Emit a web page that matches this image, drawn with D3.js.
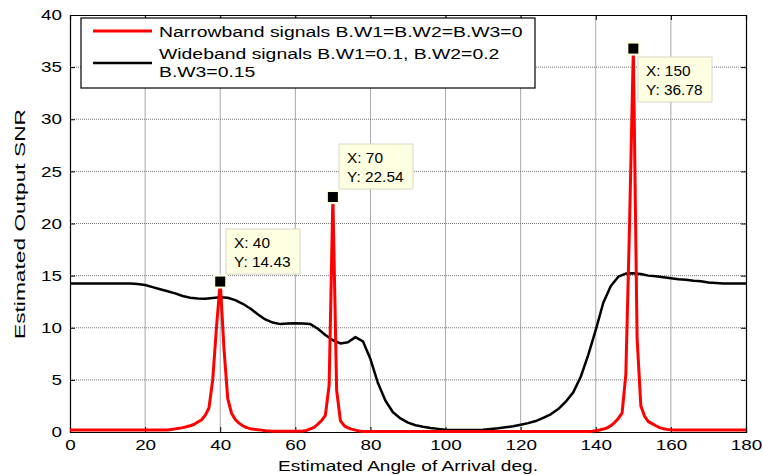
<!DOCTYPE html>
<html>
<head>
<meta charset="utf-8">
<script src="https://cdn.jsdelivr.net/npm/d3@7"></script>
<style>
body { margin: 0; background: #fff; }
text { font-family: Arial, "Liberation Sans", sans-serif; }
</style>
</head>
<body>
<svg id="chart" width="763" height="475"></svg>
<script>
// narrowband: sampled every 1 deg, wideband: every 2 deg
const narrowAngles = d3.range(0, 181, 1)
const narrowSnr = [
  0.2, 0.2, 0.2, 0.2, 0.2, 0.2, 0.2, 0.2, 0.2, 0.2,
  0.2, 0.2, 0.2, 0.2, 0.2, 0.2, 0.2, 0.2, 0.2, 0.2,
  0.2, 0.2, 0.2, 0.2, 0.2, 0.2, 0.2, 0.25, 0.3, 0.35,
  0.42, 0.5, 0.6, 0.72, 0.95, 1.15, 1.6, 2.3, 5.0, 10.0,
  14.43, 8.0, 3.2, 1.8, 1.2, 0.85, 0.6, 0.42, 0.32, 0.26,
  0.22, 0.18, 0.12, 0.1, 0.08, 0.08, 0.08, 0.08, 0.08, 0.08,
  0.08, 0.08, 0.1, 0.15, 0.3, 0.45, 0.75, 1.1, 1.6, 4.5,
  22.54, 4.0, 1.1, 0.6, 0.4, 0.28, 0.18, 0.1, 0.05, 0.05,
  0.05, 0.05, 0.05, 0.05, 0.05, 0.05, 0.05, 0.05, 0.05, 0.05,
  0.05, 0.05, 0.05, 0.05, 0.05, 0.05, 0.05, 0.05, 0.05, 0.05,
  0.05, 0.05, 0.05, 0.05, 0.05, 0.05, 0.05, 0.05, 0.05, 0.05,
  0.05, 0.05, 0.05, 0.05, 0.05, 0.05, 0.05, 0.05, 0.05, 0.05,
  0.05, 0.05, 0.05, 0.05, 0.05, 0.05, 0.05, 0.05, 0.05, 0.05,
  0.05, 0.05, 0.05, 0.05, 0.05, 0.05, 0.05, 0.05, 0.05, 0.08,
  0.12, 0.2, 0.28, 0.4, 0.6, 0.9, 1.3, 1.8, 5.5, 20.0,
  36.78, 9.0, 2.5, 1.5, 1.0, 0.8, 0.6, 0.42, 0.32, 0.25,
  0.22, 0.2, 0.2, 0.2, 0.2, 0.2, 0.2, 0.2, 0.2, 0.2,
  0.2, 0.2, 0.2, 0.2, 0.2, 0.2, 0.2, 0.2, 0.2, 0.2, 0.2
]
const wideAngles = d3.range(0, 181, 2)
const wideSnr = [
  14.25, 14.25, 14.25, 14.25, 14.25, 14.25, 14.25, 14.25, 14.25, 14.2,
  14.1, 13.9, 13.7, 13.5, 13.3, 13.05, 12.88, 12.8, 12.78, 12.85,
  12.92, 12.88, 12.65, 12.3, 11.85, 11.3, 10.8, 10.5, 10.35, 10.4,
  10.42, 10.4, 10.35, 9.9, 9.3, 8.8, 8.5, 8.6, 9.1, 8.7,
  7.0, 4.7, 3.0, 1.9, 1.3, 0.9, 0.65, 0.5, 0.38, 0.3,
  0.22, 0.2, 0.2, 0.2, 0.2, 0.22, 0.28, 0.35, 0.45, 0.55,
  0.7, 0.85, 1.05, 1.35, 1.7, 2.2, 2.9, 3.8, 5.3, 7.4,
  9.8, 12.4, 14.0, 14.9, 15.2, 15.22, 15.15, 15.0, 14.95, 14.85,
  14.75, 14.65, 14.6, 14.5, 14.45, 14.35, 14.3, 14.25, 14.25, 14.25, 14.25
]
const xTicks = [0, 20, 40, 60, 80, 100, 120, 140, 160, 180]
const yTicks = [0, 5, 10, 15, 20, 25, 30, 35, 40]
const seriesNames = ["Narrowband signals B.W1=B.W2=B.W3=0", "Wideband signals B.W1=0.1, B.W2=0.2", "B.W3=0.15"]
const tipAngles = [40, 70, 150]
const tipValues = [14.43, 22.54, 36.78]

const svg = d3.select("#chart")
const plotLeft = 70, plotRight = 746, plotTop = 15, plotBottom = 432

const x = d3.scaleLinear().domain([0, 180]).range([plotLeft, plotRight])
const y = d3.scaleLinear().domain([0, 40]).range([plotBottom, plotTop])

// the figure text is drawn wider than plain Arial, stretch it
function widen(sel, k) {
    sel.each(function() {
        const w = this.getComputedTextLength()
        d3.select(this).attr("textLength", w * k).attr("lengthAdjust", "spacingAndGlyphs")
    })
}

// grid
svg.append("g").selectAll("line")
    .data(xTicks.slice(1, -1))
    .enter().append("line")
    .attr("x1", d => x(d)).attr("x2", d => x(d))
    .attr("y1", plotTop).attr("y2", plotBottom)
    .attr("stroke", "#a8a8a8").attr("stroke-width", 1)
svg.append("g").selectAll("line")
    .data(yTicks.slice(1, -1))
    .enter().append("line")
    .attr("x1", plotLeft).attr("x2", plotRight)
    .attr("y1", d => y(d)).attr("y2", d => y(d))
    .attr("stroke", "#777").attr("stroke-width", 1)
    .attr("stroke-dasharray", "1,1")

// axes, ticks inside on all four sides
const gx = svg.append("g").attr("transform", `translate(0,${plotBottom})`)
    .call(d3.axisBottom(x).tickValues(xTicks).tickSize(-5).tickPadding(8))
const gy = svg.append("g").attr("transform", `translate(${plotLeft},0)`)
    .call(d3.axisLeft(y).tickValues(yTicks).tickSize(-5).tickPadding(8))
svg.append("g").attr("transform", `translate(0,${plotTop})`)
    .call(d3.axisTop(x).tickValues(xTicks).tickSize(-5).tickFormat(""))
svg.append("g").attr("transform", `translate(${plotRight},0)`)
    .call(d3.axisRight(y).tickValues(yTicks).tickSize(-5).tickFormat(""))
svg.selectAll(".domain").attr("stroke", "#000").attr("stroke-width", 1.2)
svg.selectAll(".tick line").attr("stroke", "#000")
gx.selectAll("text").attr("font-size", 14.5).attr("fill", "#000")
    .attr("font-family", "Arial, 'Liberation Sans', sans-serif")
    .call(widen, 1.3)
gy.selectAll("text").attr("font-size", 14.5).attr("fill", "#000")
    .attr("font-family", "Arial, 'Liberation Sans', sans-serif")
    .call(widen, 1.3)

svg.append("text")
    .attr("x", 408).attr("y", 471)
    .attr("text-anchor", "middle").attr("font-size", 15.5)
    .text("Estimated Angle of Arrival deg.")
    .attr("textLength", 260).attr("lengthAdjust", "spacingAndGlyphs")
svg.append("text")
    .attr("transform", `translate(25,224) rotate(-90)`)
    .attr("text-anchor", "middle").attr("font-size", 15)
    .text("Estimated Output SNR")
    .attr("textLength", 230).attr("lengthAdjust", "spacingAndGlyphs")

// curves
const line = d3.line().x(d => x(d[0])).y(d => y(d[1]))
svg.append("path")
    .datum(wideAngles.map((a, i) => [a, wideSnr[i]]))
    .attr("d", line).attr("fill", "none")
    .attr("stroke", "#000").attr("stroke-width", 2.5).attr("stroke-linejoin", "round")
svg.append("path")
    .datum(narrowAngles.map((a, i) => [a, narrowSnr[i]]))
    .attr("d", line).attr("fill", "none")
    .attr("stroke", "#ff0000").attr("stroke-width", 3).attr("stroke-linejoin", "round")

// legend
const lg = svg.append("g")
lg.append("rect").attr("x", 81).attr("y", 18).attr("width", 454).attr("height", 70)
    .attr("fill", "#fff").attr("stroke", "#000").attr("stroke-width", 1.2)
lg.append("line").attr("x1", 93).attr("x2", 152).attr("y1", 31).attr("y2", 31)
    .attr("stroke", "#ff0000").attr("stroke-width", 3)
lg.append("line").attr("x1", 93).attr("x2", 152).attr("y1", 63).attr("y2", 63)
    .attr("stroke", "#000").attr("stroke-width", 2.5)
lg.selectAll("text.leg")
    .data(seriesNames)
    .enter().append("text")
    .attr("class", "leg")
    .attr("x", 159)
    .attr("y", (d, i) => [37, 59, 77][i])
    .attr("font-size", 15.5)
    .text(d => d)
    .call(widen, 1.25)

// data tips
const tipBoxes = [[226, 229], [339, 144], [638, 57]]
tipAngles.forEach((a, i) => {
    const g = svg.append("g")
    const bx = tipBoxes[i][0], by = tipBoxes[i][1]
    g.append("rect").attr("x", bx).attr("y", by).attr("width", 74).attr("height", 45)
        .attr("fill", "#ffffe1").attr("stroke", "#d8d8c8").attr("stroke-width", 1)
    g.append("text").attr("x", bx + 8).attr("y", by + 19).attr("font-size", 14).text("X: " + a)
        .call(widen, 1.1)
    g.append("text").attr("x", bx + 8).attr("y", by + 38).attr("font-size", 14).text("Y: " + tipValues[i])
        .call(widen, 1.1)
    g.append("rect")
        .attr("x", x(a) - 6).attr("y", y(tipValues[i]) - 6)
        .attr("width", 12).attr("height", 12)
        .attr("fill", "#000").attr("stroke", "#ffffe1").attr("stroke-width", 2)
})
</script>
</body>
</html>
